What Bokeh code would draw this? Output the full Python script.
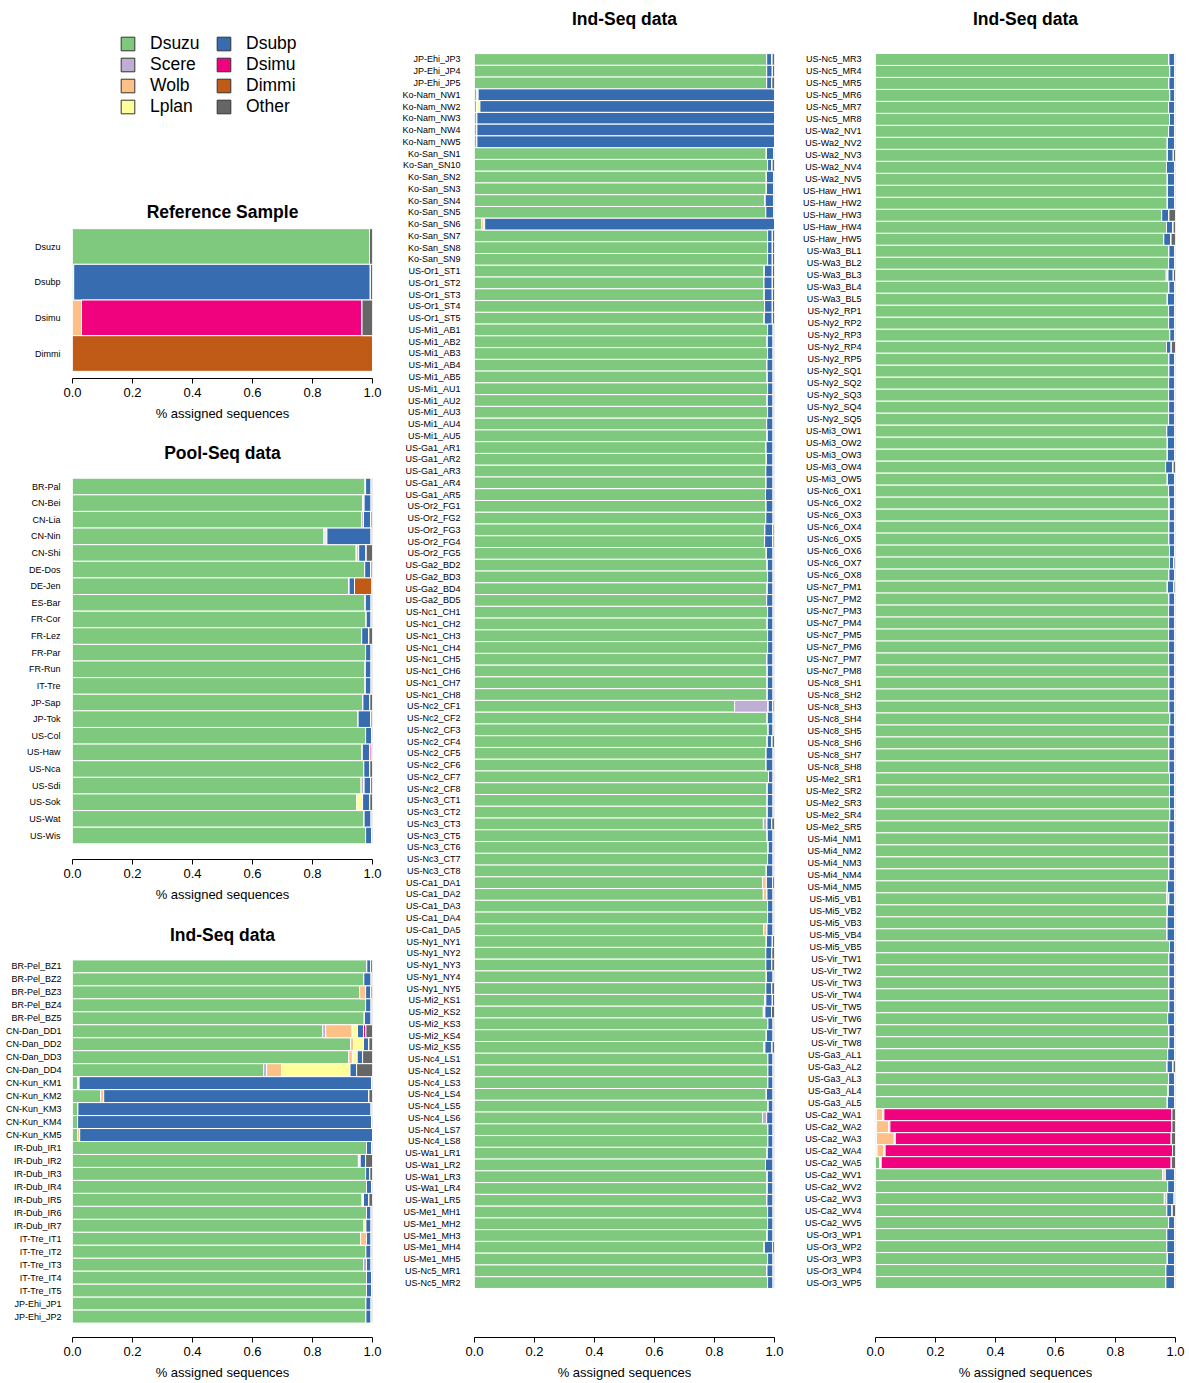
from bokeh.plotting import figure
from bokeh.models import (ColumnDataSource, Range1d, FixedTicker, PrintfTickFormatter,
                          Legend, LegendItem)
from bokeh.layouts import row, column
from bokeh.embed import file_html
from bokeh.resources import INLINE

SPECIES = ["Dsuzu", "Scere", "Wolb", "Lplan", "Dsubp", "Dsimu", "Dimmi", "Other"]
COLORS = ["#7FC97F", "#BEAED4", "#FDC086", "#FFFF99", "#386CB0", "#F0027F", "#BF5B17", "#666666"]
X_TICKS = [0.0, 0.2, 0.4, 0.6, 0.8, 1.0]

# ---------------- Reference sample ----------------
ref_labels = ["Dsuzu", "Dsubp", "Dsimu", "Dimmi"]
ref_dsuzu = [0.990, 0.004, 0.000, 0.000]
ref_scere = [0.000, 0.000, 0.000, 0.000]
ref_wolb = [0.000, 0.000, 0.030, 0.000]
ref_lplan = [0.000, 0.000, 0.000, 0.000]
ref_dsubp = [0.000, 0.989, 0.000, 0.000]
ref_dsimu = [0.000, 0.000, 0.935, 0.000]
ref_dimmi = [0.000, 0.000, 0.000, 1.000]
ref_other = [0.010, 0.007, 0.035, 0.000]

# ---------------- Pool-Seq ----------------
pool_labels = ["BR-Pal", "CN-Bei", "CN-Lia", "CN-Nin", "CN-Shi", "DE-Dos", "DE-Jen", "ES-Bar",
               "FR-Cor", "FR-Lez", "FR-Par", "FR-Run", "IT-Tre", "JP-Sap", "JP-Tok", "US-Col",
               "US-Haw", "US-Nca", "US-Sdi", "US-Sok", "US-Wat", "US-Wis"]
pool_dsuzu = [0.975, 0.967, 0.964, 0.838, 0.946, 0.974, 0.922, 0.976, 0.979, 0.964, 0.977,
              0.976, 0.976, 0.968, 0.952, 0.977, 0.966, 0.971, 0.962, 0.947, 0.972, 0.977]
pool_scere = [0.002, 0.000, 0.006, 0.004, 0.000, 0.000, 0.000, 0.000, 0.000, 0.000, 0.000,
              0.000, 0.000, 0.000, 0.000, 0.000, 0.000, 0.000, 0.010, 0.000, 0.000, 0.000]
pool_wolb = [0.000, 0.005, 0.000, 0.006, 0.008, 0.000, 0.000, 0.000, 0.000, 0.000, 0.000,
             0.000, 0.000, 0.000, 0.000, 0.000, 0.000, 0.000, 0.000, 0.000, 0.000, 0.000]
pool_lplan = [0.000, 0.000, 0.000, 0.000, 0.000, 0.000, 0.000, 0.000, 0.000, 0.000, 0.000,
              0.000, 0.000, 0.000, 0.000, 0.000, 0.000, 0.000, 0.000, 0.020, 0.000, 0.000]
pool_dsubp = [0.019, 0.024, 0.025, 0.148, 0.025, 0.021, 0.018, 0.020, 0.017, 0.024, 0.019,
              0.020, 0.020, 0.023, 0.043, 0.020, 0.024, 0.020, 0.022, 0.024, 0.024, 0.020]
pool_dsimu = [0.000, 0.000, 0.000, 0.000, 0.000, 0.000, 0.000, 0.000, 0.000, 0.000, 0.000,
              0.000, 0.000, 0.000, 0.000, 0.000, 0.006, 0.000, 0.000, 0.000, 0.000, 0.000]
pool_dimmi = [0.000, 0.000, 0.000, 0.000, 0.000, 0.000, 0.058, 0.000, 0.000, 0.000, 0.000,
              0.000, 0.000, 0.000, 0.000, 0.000, 0.000, 0.000, 0.000, 0.000, 0.000, 0.000]
pool_other = [0.004, 0.004, 0.005, 0.004, 0.021, 0.005, 0.002, 0.004, 0.004, 0.012, 0.004,
              0.004, 0.004, 0.009, 0.005, 0.003, 0.004, 0.009, 0.006, 0.009, 0.004, 0.003]

# ---------------- Ind-Seq (left column) ----------------
ind1_labels = ["BR-Pel_BZ1", "BR-Pel_BZ2", "BR-Pel_BZ3", "BR-Pel_BZ4", "BR-Pel_BZ5",
               "CN-Dan_DD1", "CN-Dan_DD2", "CN-Dan_DD3", "CN-Dan_DD4",
               "CN-Kun_KM1", "CN-Kun_KM2", "CN-Kun_KM3", "CN-Kun_KM4", "CN-Kun_KM5",
               "IR-Dub_IR1", "IR-Dub_IR2", "IR-Dub_IR3", "IR-Dub_IR4", "IR-Dub_IR5",
               "IR-Dub_IR6", "IR-Dub_IR7",
               "IT-Tre_IT1", "IT-Tre_IT2", "IT-Tre_IT3", "IT-Tre_IT4", "IT-Tre_IT5",
               "JP-Ehi_JP1", "JP-Ehi_JP2"]
ind1_dsuzu = [0.981, 0.971, 0.957, 0.977, 0.973,
              0.834, 0.927, 0.921, 0.637,
              0.018, 0.094, 0.018, 0.017, 0.017,
              0.980, 0.953, 0.977, 0.980, 0.966, 0.980, 0.971,
              0.960, 0.978, 0.970, 0.980, 0.980,
              0.978, 0.978]
ind1_scere = [0.000, 0.000, 0.000, 0.000, 0.000,
              0.010, 0.000, 0.000, 0.010,
              0.004, 0.000, 0.000, 0.000, 0.000,
              0.000, 0.006, 0.000, 0.000, 0.000, 0.000, 0.000,
              0.000, 0.000, 0.010, 0.000, 0.000,
              0.000, 0.000]
ind1_wolb = [0.000, 0.000, 0.020, 0.000, 0.000,
             0.088, 0.010, 0.012, 0.050,
             0.000, 0.010, 0.000, 0.000, 0.007,
             0.000, 0.000, 0.000, 0.000, 0.000, 0.000, 0.000,
             0.020, 0.000, 0.000, 0.000, 0.000,
             0.000, 0.000]
ind1_lplan = [0.000, 0.000, 0.000, 0.000, 0.000,
              0.018, 0.033, 0.016, 0.228,
              0.000, 0.000, 0.000, 0.000, 0.000,
              0.000, 0.000, 0.000, 0.000, 0.004, 0.000, 0.007,
              0.000, 0.000, 0.000, 0.000, 0.000,
              0.000, 0.000]
ind1_dsubp = [0.013, 0.025, 0.018, 0.019, 0.023,
              0.020, 0.018, 0.018, 0.022,
              0.975, 0.884, 0.978, 0.980, 0.976,
              0.017, 0.018, 0.014, 0.017, 0.018, 0.016, 0.018,
              0.016, 0.018, 0.016, 0.017, 0.017,
              0.018, 0.018]
ind1_dsimu = [0.000, 0.000, 0.000, 0.000, 0.000,
              0.008, 0.000, 0.000, 0.000,
              0.000, 0.000, 0.000, 0.000, 0.000,
              0.000, 0.000, 0.000, 0.000, 0.000, 0.000, 0.000,
              0.000, 0.000, 0.000, 0.000, 0.000,
              0.000, 0.000]
ind1_dimmi = [0.000, 0.000, 0.000, 0.000, 0.000,
              0.000, 0.000, 0.000, 0.000,
              0.000, 0.000, 0.000, 0.000, 0.000,
              0.000, 0.000, 0.000, 0.000, 0.000, 0.000, 0.000,
              0.000, 0.000, 0.000, 0.000, 0.000,
              0.000, 0.000]
ind1_other = [0.006, 0.004, 0.005, 0.004, 0.004,
              0.022, 0.012, 0.033, 0.053,
              0.003, 0.012, 0.004, 0.003, 0.000,
              0.003, 0.023, 0.009, 0.003, 0.012, 0.004, 0.004,
              0.004, 0.004, 0.004, 0.003, 0.003,
              0.004, 0.004]

# ---------------- Ind-Seq (middle column) ----------------
ind2_labels = ["JP-Ehi_JP3", "JP-Ehi_JP4", "JP-Ehi_JP5",
               "Ko-Nam_NW1", "Ko-Nam_NW2", "Ko-Nam_NW3", "Ko-Nam_NW4", "Ko-Nam_NW5",
               "Ko-San_SN1", "Ko-San_SN10", "Ko-San_SN2", "Ko-San_SN3", "Ko-San_SN4",
               "Ko-San_SN5", "Ko-San_SN6", "Ko-San_SN7", "Ko-San_SN8", "Ko-San_SN9",
               "US-Or1_ST1", "US-Or1_ST2", "US-Or1_ST3", "US-Or1_ST4", "US-Or1_ST5",
               "US-Mi1_AB1", "US-Mi1_AB2", "US-Mi1_AB3", "US-Mi1_AB4", "US-Mi1_AB5",
               "US-Mi1_AU1", "US-Mi1_AU2", "US-Mi1_AU3", "US-Mi1_AU4", "US-Mi1_AU5",
               "US-Ga1_AR1", "US-Ga1_AR2", "US-Ga1_AR3", "US-Ga1_AR4", "US-Ga1_AR5",
               "US-Or2_FG1", "US-Or2_FG2", "US-Or2_FG3", "US-Or2_FG4", "US-Or2_FG5",
               "US-Ga2_BD2", "US-Ga2_BD3", "US-Ga2_BD4", "US-Ga2_BD5",
               "US-Nc1_CH1", "US-Nc1_CH2", "US-Nc1_CH3", "US-Nc1_CH4", "US-Nc1_CH5",
               "US-Nc1_CH6", "US-Nc1_CH7", "US-Nc1_CH8",
               "US-Nc2_CF1", "US-Nc2_CF2", "US-Nc2_CF3", "US-Nc2_CF4", "US-Nc2_CF5",
               "US-Nc2_CF6", "US-Nc2_CF7", "US-Nc2_CF8",
               "US-Nc3_CT1", "US-Nc3_CT2", "US-Nc3_CT3", "US-Nc3_CT5", "US-Nc3_CT6",
               "US-Nc3_CT7", "US-Nc3_CT8",
               "US-Ca1_DA1", "US-Ca1_DA2", "US-Ca1_DA3", "US-Ca1_DA4", "US-Ca1_DA5",
               "US-Ny1_NY1", "US-Ny1_NY2", "US-Ny1_NY3", "US-Ny1_NY4", "US-Ny1_NY5",
               "US-Mi2_KS1", "US-Mi2_KS2", "US-Mi2_KS3", "US-Mi2_KS4", "US-Mi2_KS5",
               "US-Nc4_LS1", "US-Nc4_LS2", "US-Nc4_LS3", "US-Nc4_LS4", "US-Nc4_LS5",
               "US-Nc4_LS6", "US-Nc4_LS7", "US-Nc4_LS8",
               "US-Wa1_LR1", "US-Wa1_LR2", "US-Wa1_LR3", "US-Wa1_LR4", "US-Wa1_LR5",
               "US-Me1_MH1", "US-Me1_MH2", "US-Me1_MH3", "US-Me1_MH4", "US-Me1_MH5",
               "US-Nc5_MR1", "US-Nc5_MR2"]
ind2_dsuzu = [0.974, 0.974, 0.974,
              0.008, 0.008, 0.008, 0.008, 0.008,
              0.973, 0.977, 0.973, 0.973, 0.969, 0.971, 0.024, 0.977, 0.977, 0.977,
              0.966, 0.965, 0.966, 0.967, 0.966,
              0.977, 0.976, 0.977, 0.975, 0.976,
              0.977, 0.976, 0.977, 0.974, 0.976,
              0.972, 0.973, 0.971, 0.972, 0.970,
              0.972, 0.971, 0.968, 0.967, 0.973,
              0.976, 0.977, 0.976, 0.974,
              0.977, 0.976, 0.977, 0.977, 0.975, 0.976, 0.976, 0.976,
              0.867, 0.976, 0.979, 0.976, 0.972, 0.972, 0.980, 0.976,
              0.976, 0.976, 0.963, 0.976, 0.979, 0.977, 0.973,
              0.960, 0.963, 0.977, 0.977, 0.964,
              0.973, 0.971, 0.971, 0.973, 0.971,
              0.967, 0.963, 0.978, 0.973, 0.964,
              0.978, 0.978, 0.978, 0.973, 0.979, 0.960, 0.978, 0.978,
              0.976, 0.970, 0.976, 0.976, 0.975,
              0.977, 0.977, 0.976, 0.966, 0.977,
              0.975, 0.977]
ind2_scere = [0.000, 0.000, 0.000,
              0.004, 0.000, 0.000, 0.000, 0.000,
              0.000, 0.000, 0.000, 0.000, 0.000, 0.000, 0.000, 0.000, 0.000, 0.000,
              0.000, 0.000, 0.000, 0.000, 0.000,
              0.000, 0.000, 0.000, 0.000, 0.000,
              0.000, 0.000, 0.000, 0.000, 0.000,
              0.000, 0.000, 0.000, 0.000, 0.000,
              0.000, 0.000, 0.000, 0.000, 0.000,
              0.000, 0.000, 0.000, 0.000,
              0.000, 0.000, 0.000, 0.000, 0.000, 0.000, 0.000, 0.000,
              0.112, 0.000, 0.000, 0.000, 0.000, 0.000, 0.000, 0.000,
              0.000, 0.000, 0.012, 0.000, 0.000, 0.000, 0.000,
              0.000, 0.000, 0.000, 0.000, 0.000,
              0.000, 0.000, 0.000, 0.000, 0.000,
              0.000, 0.000, 0.000, 0.000, 0.000,
              0.000, 0.000, 0.000, 0.000, 0.000, 0.014, 0.000, 0.000,
              0.000, 0.000, 0.000, 0.000, 0.000,
              0.000, 0.000, 0.000, 0.000, 0.000,
              0.000, 0.000]
ind2_wolb = [0.000, 0.000, 0.000,
             0.000, 0.000, 0.000, 0.000, 0.000,
             0.000, 0.000, 0.000, 0.000, 0.000, 0.000, 0.006, 0.000, 0.000, 0.000,
             0.000, 0.000, 0.000, 0.000, 0.000,
             0.000, 0.000, 0.000, 0.000, 0.000,
             0.000, 0.000, 0.000, 0.000, 0.000,
             0.000, 0.000, 0.000, 0.000, 0.000,
             0.000, 0.000, 0.000, 0.000, 0.000,
             0.000, 0.000, 0.000, 0.000,
             0.000, 0.000, 0.000, 0.000, 0.000, 0.000, 0.000, 0.000,
             0.000, 0.000, 0.000, 0.000, 0.000, 0.000, 0.000, 0.000,
             0.000, 0.000, 0.000, 0.000, 0.000, 0.000, 0.000,
             0.013, 0.012, 0.000, 0.000, 0.011,
             0.000, 0.000, 0.000, 0.000, 0.000,
             0.004, 0.005, 0.000, 0.000, 0.004,
             0.000, 0.000, 0.000, 0.000, 0.000, 0.000, 0.000, 0.000,
             0.000, 0.000, 0.000, 0.000, 0.000,
             0.000, 0.000, 0.000, 0.000, 0.000,
             0.000, 0.000]
ind2_lplan = [0.000, 0.000, 0.000,
              0.000, 0.010, 0.000, 0.000, 0.000,
              0.000, 0.000, 0.000, 0.000, 0.000, 0.000, 0.004, 0.000, 0.000, 0.000,
              0.000, 0.000, 0.000, 0.000, 0.000,
              0.000, 0.000, 0.000, 0.000, 0.000,
              0.000, 0.000, 0.000, 0.000, 0.000,
              0.000, 0.000, 0.000, 0.000, 0.000,
              0.000, 0.000, 0.000, 0.000, 0.000,
              0.000, 0.000, 0.000, 0.000,
              0.000, 0.000, 0.000, 0.000, 0.000, 0.000, 0.000, 0.000,
              0.000, 0.000, 0.000, 0.000, 0.000, 0.000, 0.000, 0.000,
              0.000, 0.000, 0.000, 0.000, 0.000, 0.000, 0.000,
              0.000, 0.000, 0.000, 0.000, 0.000,
              0.000, 0.000, 0.000, 0.000, 0.000,
              0.000, 0.000, 0.000, 0.000, 0.000,
              0.000, 0.000, 0.000, 0.000, 0.000, 0.000, 0.000, 0.000,
              0.000, 0.000, 0.000, 0.000, 0.000,
              0.000, 0.000, 0.000, 0.000, 0.000,
              0.000, 0.000]
ind2_dsubp = [0.018, 0.019, 0.017,
              0.988, 0.982, 0.992, 0.992, 0.992,
              0.025, 0.015, 0.025, 0.025, 0.029, 0.027, 0.966, 0.016, 0.016, 0.016,
              0.027, 0.028, 0.027, 0.026, 0.027,
              0.019, 0.020, 0.019, 0.021, 0.020,
              0.019, 0.020, 0.019, 0.022, 0.020,
              0.024, 0.023, 0.025, 0.024, 0.026,
              0.024, 0.025, 0.027, 0.028, 0.023,
              0.020, 0.019, 0.020, 0.022,
              0.019, 0.020, 0.019, 0.019, 0.021, 0.020, 0.020, 0.020,
              0.016, 0.020, 0.017, 0.016, 0.024, 0.024, 0.016, 0.020,
              0.020, 0.020, 0.016, 0.020, 0.017, 0.019, 0.023,
              0.021, 0.021, 0.019, 0.019, 0.021,
              0.020, 0.020, 0.020, 0.023, 0.020,
              0.022, 0.022, 0.018, 0.023, 0.024,
              0.018, 0.018, 0.018, 0.023, 0.017, 0.022, 0.018, 0.018,
              0.020, 0.026, 0.020, 0.020, 0.021,
              0.019, 0.019, 0.020, 0.028, 0.019,
              0.021, 0.019]
ind2_dsimu = [0.000, 0.000, 0.000,
              0.000, 0.000, 0.000, 0.000, 0.000,
              0.000, 0.000, 0.000, 0.000, 0.000, 0.000, 0.000, 0.000, 0.000, 0.000,
              0.000, 0.000, 0.000, 0.000, 0.000,
              0.000, 0.000, 0.000, 0.000, 0.000,
              0.000, 0.000, 0.000, 0.000, 0.000,
              0.000, 0.000, 0.000, 0.000, 0.000,
              0.000, 0.000, 0.000, 0.000, 0.000,
              0.000, 0.000, 0.000, 0.000,
              0.000, 0.000, 0.000, 0.000, 0.000, 0.000, 0.000, 0.000,
              0.000, 0.000, 0.000, 0.000, 0.000, 0.000, 0.000, 0.000,
              0.000, 0.000, 0.000, 0.000, 0.000, 0.000, 0.000,
              0.000, 0.000, 0.000, 0.000, 0.000,
              0.000, 0.000, 0.000, 0.000, 0.000,
              0.000, 0.000, 0.000, 0.000, 0.000,
              0.000, 0.000, 0.000, 0.000, 0.000, 0.000, 0.000, 0.000,
              0.000, 0.000, 0.000, 0.000, 0.000,
              0.000, 0.000, 0.000, 0.000, 0.000,
              0.000, 0.000]
ind2_dimmi = [0.000, 0.000, 0.000,
              0.000, 0.000, 0.000, 0.000, 0.000,
              0.000, 0.000, 0.000, 0.000, 0.000, 0.000, 0.000, 0.000, 0.000, 0.000,
              0.000, 0.000, 0.000, 0.000, 0.000,
              0.000, 0.000, 0.000, 0.000, 0.000,
              0.000, 0.000, 0.000, 0.000, 0.000,
              0.000, 0.000, 0.000, 0.000, 0.000,
              0.000, 0.000, 0.000, 0.000, 0.000,
              0.000, 0.000, 0.000, 0.000,
              0.000, 0.000, 0.000, 0.000, 0.000, 0.000, 0.000, 0.000,
              0.000, 0.000, 0.000, 0.000, 0.000, 0.000, 0.000, 0.000,
              0.000, 0.000, 0.000, 0.000, 0.000, 0.000, 0.000,
              0.000, 0.000, 0.000, 0.000, 0.000,
              0.000, 0.000, 0.000, 0.000, 0.000,
              0.000, 0.000, 0.000, 0.000, 0.000,
              0.000, 0.000, 0.000, 0.000, 0.000, 0.000, 0.000, 0.000,
              0.000, 0.000, 0.000, 0.000, 0.000,
              0.000, 0.000, 0.000, 0.000, 0.000,
              0.000, 0.000]
ind2_other = [0.008, 0.007, 0.009,
              0.000, 0.000, 0.000, 0.000, 0.000,
              0.002, 0.008, 0.002, 0.002, 0.002, 0.002, 0.000, 0.007, 0.007, 0.007,
              0.007, 0.007, 0.007, 0.007, 0.007,
              0.004, 0.004, 0.004, 0.004, 0.004,
              0.004, 0.004, 0.004, 0.004, 0.004,
              0.004, 0.004, 0.004, 0.004, 0.004,
              0.004, 0.004, 0.005, 0.005, 0.004,
              0.004, 0.004, 0.004, 0.004,
              0.004, 0.004, 0.004, 0.004, 0.004, 0.004, 0.004, 0.004,
              0.005, 0.004, 0.004, 0.008, 0.004, 0.004, 0.004, 0.004,
              0.004, 0.004, 0.009, 0.004, 0.004, 0.004, 0.004,
              0.006, 0.004, 0.004, 0.004, 0.004,
              0.007, 0.009, 0.009, 0.004, 0.009,
              0.007, 0.010, 0.004, 0.004, 0.008,
              0.004, 0.004, 0.004, 0.004, 0.004, 0.004, 0.004, 0.004,
              0.004, 0.004, 0.004, 0.004, 0.004,
              0.004, 0.004, 0.004, 0.006, 0.004,
              0.004, 0.004]

# ---------------- Ind-Seq (right column) ----------------
ind3_labels = ["US-Nc5_MR3", "US-Nc5_MR4", "US-Nc5_MR5", "US-Nc5_MR6", "US-Nc5_MR7", "US-Nc5_MR8",
               "US-Wa2_NV1", "US-Wa2_NV2", "US-Wa2_NV3", "US-Wa2_NV4", "US-Wa2_NV5",
               "US-Haw_HW1", "US-Haw_HW2", "US-Haw_HW3", "US-Haw_HW4", "US-Haw_HW5",
               "US-Wa3_BL1", "US-Wa3_BL2", "US-Wa3_BL3", "US-Wa3_BL4", "US-Wa3_BL5",
               "US-Ny2_RP1", "US-Ny2_RP2", "US-Ny2_RP3", "US-Ny2_RP4", "US-Ny2_RP5",
               "US-Ny2_SQ1", "US-Ny2_SQ2", "US-Ny2_SQ3", "US-Ny2_SQ4", "US-Ny2_SQ5",
               "US-Mi3_OW1", "US-Mi3_OW2", "US-Mi3_OW3", "US-Mi3_OW4", "US-Mi3_OW5",
               "US-Nc6_OX1", "US-Nc6_OX2", "US-Nc6_OX3", "US-Nc6_OX4", "US-Nc6_OX5",
               "US-Nc6_OX6", "US-Nc6_OX7", "US-Nc6_OX8",
               "US-Nc7_PM1", "US-Nc7_PM2", "US-Nc7_PM3", "US-Nc7_PM4", "US-Nc7_PM5",
               "US-Nc7_PM6", "US-Nc7_PM7", "US-Nc7_PM8",
               "US-Nc8_SH1", "US-Nc8_SH2", "US-Nc8_SH3", "US-Nc8_SH4", "US-Nc8_SH5",
               "US-Nc8_SH6", "US-Nc8_SH7", "US-Nc8_SH8",
               "US-Me2_SR1", "US-Me2_SR2", "US-Me2_SR3", "US-Me2_SR4", "US-Me2_SR5",
               "US-Mi4_NM1", "US-Mi4_NM2", "US-Mi4_NM3", "US-Mi4_NM4", "US-Mi4_NM5",
               "US-Mi5_VB1", "US-Mi5_VB2", "US-Mi5_VB3", "US-Mi5_VB4", "US-Mi5_VB5",
               "US-Vir_TW1", "US-Vir_TW2", "US-Vir_TW3", "US-Vir_TW4", "US-Vir_TW5",
               "US-Vir_TW6", "US-Vir_TW7", "US-Vir_TW8",
               "US-Ga3_AL1", "US-Ga3_AL2", "US-Ga3_AL3", "US-Ga3_AL4", "US-Ga3_AL5",
               "US-Ca2_WA1", "US-Ca2_WA2", "US-Ca2_WA3", "US-Ca2_WA4", "US-Ca2_WA5",
               "US-Ca2_WV1", "US-Ca2_WV2", "US-Ca2_WV3", "US-Ca2_WV4", "US-Ca2_WV5",
               "US-Or3_WP1", "US-Or3_WP2", "US-Or3_WP3", "US-Or3_WP4", "US-Or3_WP5"]
ind3_dsuzu = [0.978, 0.981, 0.978, 0.981, 0.977, 0.980,
              0.977, 0.973, 0.973, 0.970, 0.973,
              0.973, 0.973, 0.954, 0.970, 0.961,
              0.978, 0.977, 0.969, 0.978, 0.973,
              0.977, 0.977, 0.981, 0.970, 0.978,
              0.978, 0.977, 0.977, 0.977, 0.977,
              0.971, 0.973, 0.973, 0.967, 0.973,
              0.977, 0.979, 0.979, 0.978, 0.978, 0.980, 0.980, 0.978,
              0.973, 0.978, 0.977, 0.977, 0.977, 0.977, 0.977, 0.978,
              0.978, 0.978, 0.978, 0.981, 0.978, 0.978, 0.978, 0.978,
              0.980, 0.980, 0.980, 0.981, 0.978,
              0.978, 0.978, 0.978, 0.978, 0.973,
              0.971, 0.973, 0.972, 0.972, 0.980,
              0.978, 0.978, 0.978, 0.978, 0.978, 0.974, 0.978, 0.978,
              0.974, 0.972, 0.977, 0.976, 0.973,
              0.003, 0.003, 0.003, 0.005, 0.014,
              0.958, 0.974, 0.963, 0.971, 0.977,
              0.971, 0.971, 0.973, 0.968, 0.968]
ind3_scere = [0.000, 0.000, 0.000, 0.000, 0.000, 0.000,
              0.000, 0.000, 0.000, 0.000, 0.000,
              0.000, 0.000, 0.000, 0.000, 0.000,
              0.000, 0.000, 0.006, 0.000, 0.000,
              0.000, 0.000, 0.000, 0.000, 0.000,
              0.000, 0.000, 0.000, 0.000, 0.000,
              0.000, 0.000, 0.000, 0.000, 0.000,
              0.000, 0.000, 0.000, 0.000, 0.000, 0.000, 0.000, 0.000,
              0.000, 0.000, 0.000, 0.000, 0.000, 0.000, 0.000, 0.000,
              0.000, 0.000, 0.000, 0.000, 0.000, 0.000, 0.000, 0.000,
              0.000, 0.000, 0.000, 0.000, 0.000,
              0.000, 0.000, 0.000, 0.000, 0.000,
              0.000, 0.000, 0.000, 0.000, 0.000,
              0.000, 0.000, 0.000, 0.000, 0.000, 0.000, 0.000, 0.000,
              0.000, 0.000, 0.000, 0.000, 0.000,
              0.000, 0.000, 0.000, 0.000, 0.000,
              0.000, 0.000, 0.000, 0.000, 0.000,
              0.000, 0.000, 0.000, 0.000, 0.000]
ind3_wolb = [0.000, 0.000, 0.000, 0.000, 0.000, 0.000,
             0.000, 0.000, 0.000, 0.000, 0.000,
             0.000, 0.000, 0.000, 0.000, 0.000,
             0.000, 0.000, 0.000, 0.000, 0.000,
             0.000, 0.000, 0.000, 0.000, 0.000,
             0.000, 0.000, 0.000, 0.000, 0.000,
             0.000, 0.000, 0.000, 0.000, 0.000,
             0.000, 0.000, 0.000, 0.000, 0.000, 0.000, 0.000, 0.000,
             0.000, 0.000, 0.000, 0.000, 0.000, 0.000, 0.000, 0.000,
             0.000, 0.000, 0.000, 0.000, 0.000, 0.000, 0.000, 0.000,
             0.000, 0.000, 0.000, 0.000, 0.000,
             0.000, 0.000, 0.000, 0.000, 0.000,
             0.007, 0.000, 0.000, 0.000, 0.000,
             0.000, 0.000, 0.000, 0.000, 0.000, 0.000, 0.000, 0.000,
             0.000, 0.000, 0.000, 0.000, 0.000,
             0.022, 0.042, 0.060, 0.024, 0.003,
             0.008, 0.000, 0.008, 0.000, 0.000,
             0.000, 0.000, 0.000, 0.000, 0.000]
ind3_lplan = [0.000, 0.000, 0.000, 0.000, 0.000, 0.000,
              0.000, 0.000, 0.000, 0.000, 0.000,
              0.000, 0.000, 0.000, 0.000, 0.000,
              0.000, 0.000, 0.000, 0.000, 0.000,
              0.000, 0.000, 0.000, 0.000, 0.000,
              0.000, 0.000, 0.000, 0.000, 0.000,
              0.000, 0.000, 0.000, 0.000, 0.000,
              0.000, 0.000, 0.000, 0.000, 0.000, 0.000, 0.000, 0.000,
              0.000, 0.000, 0.000, 0.000, 0.000, 0.000, 0.000, 0.000,
              0.000, 0.000, 0.000, 0.000, 0.000, 0.000, 0.000, 0.000,
              0.000, 0.000, 0.000, 0.000, 0.000,
              0.000, 0.000, 0.000, 0.000, 0.000,
              0.000, 0.000, 0.000, 0.000, 0.000,
              0.000, 0.000, 0.000, 0.000, 0.000, 0.000, 0.000, 0.000,
              0.000, 0.000, 0.000, 0.000, 0.000,
              0.000, 0.000, 0.000, 0.000, 0.000,
              0.000, 0.000, 0.000, 0.000, 0.000,
              0.000, 0.000, 0.000, 0.000, 0.000]
ind3_dsubp = [0.019, 0.016, 0.019, 0.016, 0.020, 0.017,
              0.020, 0.024, 0.020, 0.027, 0.024,
              0.024, 0.024, 0.024, 0.022, 0.024,
              0.019, 0.020, 0.018, 0.019, 0.024,
              0.020, 0.020, 0.016, 0.016, 0.019,
              0.019, 0.020, 0.020, 0.020, 0.020,
              0.026, 0.024, 0.024, 0.025, 0.024,
              0.020, 0.018, 0.018, 0.019, 0.019, 0.017, 0.015, 0.019,
              0.022, 0.019, 0.020, 0.020, 0.020, 0.020, 0.020, 0.019,
              0.019, 0.019, 0.019, 0.016, 0.019, 0.019, 0.019, 0.019,
              0.017, 0.017, 0.017, 0.016, 0.019,
              0.019, 0.019, 0.019, 0.019, 0.024,
              0.019, 0.024, 0.025, 0.025, 0.017,
              0.019, 0.019, 0.019, 0.019, 0.019, 0.023, 0.019, 0.019,
              0.023, 0.020, 0.020, 0.021, 0.024,
              0.003, 0.003, 0.003, 0.003, 0.002,
              0.031, 0.023, 0.025, 0.018, 0.020,
              0.026, 0.026, 0.024, 0.029, 0.029]
ind3_dsimu = [0.000, 0.000, 0.000, 0.000, 0.000, 0.000,
              0.000, 0.000, 0.000, 0.000, 0.000,
              0.000, 0.000, 0.000, 0.000, 0.000,
              0.000, 0.000, 0.000, 0.000, 0.000,
              0.000, 0.000, 0.000, 0.000, 0.000,
              0.000, 0.000, 0.000, 0.000, 0.000,
              0.000, 0.000, 0.000, 0.000, 0.000,
              0.000, 0.000, 0.000, 0.000, 0.000, 0.000, 0.000, 0.000,
              0.000, 0.000, 0.000, 0.000, 0.000, 0.000, 0.000, 0.000,
              0.000, 0.000, 0.000, 0.000, 0.000, 0.000, 0.000, 0.000,
              0.000, 0.000, 0.000, 0.000, 0.000,
              0.000, 0.000, 0.000, 0.000, 0.000,
              0.000, 0.000, 0.000, 0.000, 0.000,
              0.000, 0.000, 0.000, 0.000, 0.000, 0.000, 0.000, 0.000,
              0.000, 0.000, 0.000, 0.000, 0.000,
              0.960, 0.940, 0.920, 0.958, 0.967,
              0.000, 0.000, 0.000, 0.000, 0.000,
              0.000, 0.000, 0.000, 0.000, 0.000]
ind3_dimmi = [0.000, 0.000, 0.000, 0.000, 0.000, 0.000,
              0.000, 0.000, 0.000, 0.000, 0.000,
              0.000, 0.000, 0.000, 0.000, 0.000,
              0.000, 0.000, 0.000, 0.000, 0.000,
              0.000, 0.000, 0.000, 0.000, 0.000,
              0.000, 0.000, 0.000, 0.000, 0.000,
              0.000, 0.000, 0.000, 0.000, 0.000,
              0.000, 0.000, 0.000, 0.000, 0.000, 0.000, 0.000, 0.000,
              0.000, 0.000, 0.000, 0.000, 0.000, 0.000, 0.000, 0.000,
              0.000, 0.000, 0.000, 0.000, 0.000, 0.000, 0.000, 0.000,
              0.000, 0.000, 0.000, 0.000, 0.000,
              0.000, 0.000, 0.000, 0.000, 0.000,
              0.000, 0.000, 0.000, 0.000, 0.000,
              0.000, 0.000, 0.000, 0.000, 0.000, 0.000, 0.000, 0.000,
              0.000, 0.000, 0.000, 0.000, 0.000,
              0.000, 0.000, 0.000, 0.000, 0.000,
              0.000, 0.000, 0.000, 0.000, 0.000,
              0.000, 0.000, 0.000, 0.000, 0.000]
ind3_other = [0.003, 0.003, 0.003, 0.003, 0.003, 0.003,
              0.003, 0.003, 0.007, 0.003, 0.003,
              0.003, 0.003, 0.022, 0.008, 0.015,
              0.003, 0.003, 0.007, 0.003, 0.003,
              0.003, 0.003, 0.003, 0.014, 0.003,
              0.003, 0.003, 0.003, 0.003, 0.003,
              0.003, 0.003, 0.003, 0.008, 0.003,
              0.003, 0.003, 0.003, 0.003, 0.003, 0.003, 0.005, 0.003,
              0.005, 0.003, 0.003, 0.003, 0.003, 0.003, 0.003, 0.003,
              0.003, 0.003, 0.003, 0.003, 0.003, 0.003, 0.003, 0.003,
              0.003, 0.003, 0.003, 0.003, 0.003,
              0.003, 0.003, 0.003, 0.003, 0.003,
              0.003, 0.003, 0.003, 0.003, 0.003,
              0.003, 0.003, 0.003, 0.003, 0.003, 0.003, 0.003, 0.003,
              0.003, 0.008, 0.003, 0.003, 0.003,
              0.012, 0.012, 0.014, 0.010, 0.014,
              0.003, 0.003, 0.004, 0.011, 0.003,
              0.003, 0.003, 0.003, 0.003, 0.003]

FONT = "Liberation Sans"


def make_panel(title, labels, series, width, height, border_left, frame_top, frame_bottom,
               yc_first, yc_last, ylab_standoff):
    n = len(labels)
    step = (yc_last - yc_first) / (n - 1)
    y_end = (yc_first - frame_top) / step
    y_start = -(n - 1) - (frame_bottom - yc_last) / step
    ys = [-i for i in range(n)]
    data = {"y": ys}
    for name, vals in zip(SPECIES, series):
        data[name] = vals
    src = ColumnDataSource(data)
    p = figure(width=width, height=height, x_range=Range1d(0, 1), y_range=Range1d(y_start, y_end),
               output_backend="svg", toolbar_location=None, title=title,
               min_border_left=border_left, min_border_right=width - border_left - 300,
               min_border_top=frame_top, min_border_bottom=height - frame_bottom)
    p.hbar_stack(SPECIES, y="y", height=1.0, fill_color=COLORS, line_color="white",
                 line_width=1, source=src)
    p.outline_line_color = None
    p.xgrid.visible = False
    p.ygrid.visible = False
    p.title.align = "center"
    p.title.text_font = FONT
    p.title.text_font_size = "17.5px"
    p.title.text_font_style = "bold"
    p.title.text_color = "black"
    p.title.standoff = 9
    xa = p.xaxis[0]
    xa.ticker = FixedTicker(ticks=X_TICKS)
    xa.formatter = PrintfTickFormatter(format="%.1f")
    xa.axis_label = "% assigned sequences"
    xa.axis_label_text_font = FONT
    xa.axis_label_text_font_style = "normal"
    xa.axis_label_text_font_size = "13px"
    xa.axis_label_text_color = "black"
    xa.axis_label_standoff = 6
    xa.major_label_text_font = FONT
    xa.major_label_text_font_size = "13px"
    xa.major_label_text_color = "black"
    xa.major_label_standoff = 4
    xa.major_tick_out = 5
    xa.major_tick_in = 0
    xa.minor_tick_line_color = None
    xa.axis_line_color = "black"
    xa.major_tick_line_color = "black"
    ya = p.yaxis[0]
    ya.ticker = FixedTicker(ticks=ys)
    ya.major_label_overrides = {y: lab for y, lab in zip(ys, labels)}
    ya.major_label_text_font = FONT
    ya.major_label_text_font_size = "9px"
    ya.major_label_text_color = "black"
    ya.major_label_standoff = ylab_standoff
    ya.axis_line_color = None
    ya.major_tick_line_color = None
    ya.minor_tick_line_color = None
    ya.major_tick_out = 0
    ya.major_tick_in = 0
    return p


# legend figure: key renderers are zero-size (they only provide the legend swatches)
leg = figure(width=390, height=190, x_range=Range1d(0, 1), y_range=Range1d(0, 1),
             output_backend="svg", toolbar_location=None,
             min_border_left=72, min_border_right=18, min_border_top=0, min_border_bottom=0,
             x_axis_location=None, y_axis_location=None, outline_line_color=None)
leg.grid.visible = False
key_src = ColumnDataSource({"y": [0.5], "left": [0.5], "right": [0.5]})
rends = []
for sp, c in zip(SPECIES, COLORS):
    rends.append(leg.hbar(y="y", left="left", right="right", height=0.0, source=key_src,
                          fill_color=c, line_color="#333333", line_width=1))
for k, xloc in enumerate([47, 143]):
    items = [LegendItem(label=SPECIES[i], renderers=[rends[i]]) for i in range(4 * k, 4 * k + 4)]
    lg = Legend(items=items, location=(xloc, 73), glyph_width=17, glyph_height=17,
                spacing=0, padding=0, margin=0, label_standoff=14, label_height=21,
                label_text_font=FONT, label_text_font_size="17.5px", label_text_color="black",
                border_line_color=None, background_fill_alpha=0)
    leg.add_layout(lg)

ref_p = make_panel("Reference Sample", ref_labels,
                   [ref_dsuzu, ref_scere, ref_wolb, ref_lplan, ref_dsubp, ref_dsimu, ref_dimmi, ref_other],
                   390, 240, 72, 36, 188, 56, 163, 12)
pool_p = make_panel("Pool-Seq data", pool_labels,
                    [pool_dsuzu, pool_scere, pool_wolb, pool_lplan, pool_dsubp, pool_dsimu, pool_dimmi, pool_other],
                    390, 482, 72, 37, 429, 56, 405, 12)
ind1_p = make_panel("Ind-Seq data", ind1_labels,
                    [ind1_dsuzu, ind1_scere, ind1_wolb, ind1_lplan, ind1_dsubp, ind1_dsimu, ind1_dimmi, ind1_other],
                    390, 470, 72, 37, 427, 54, 406, 11)
ind2_p = make_panel("Ind-Seq data", ind2_labels,
                    [ind2_dsuzu, ind2_scere, ind2_wolb, ind2_lplan, ind2_dsubp, ind2_dsimu, ind2_dimmi, ind2_other],
                    400, 1382, 84, 33, 1339, 59, 1284, 14)
ind3_p = make_panel("Ind-Seq data", ind3_labels,
                    [ind3_dsuzu, ind3_scere, ind3_wolb, ind3_lplan, ind3_dsubp, ind3_dsimu, ind3_dimmi, ind3_other],
                    398, 1382, 85, 33, 1339, 59, 1284, 14)

layout = row(column(leg, ref_p, pool_p, ind1_p), ind2_p, ind3_p)
open("out.html", "w").write(file_html(layout, INLINE))
